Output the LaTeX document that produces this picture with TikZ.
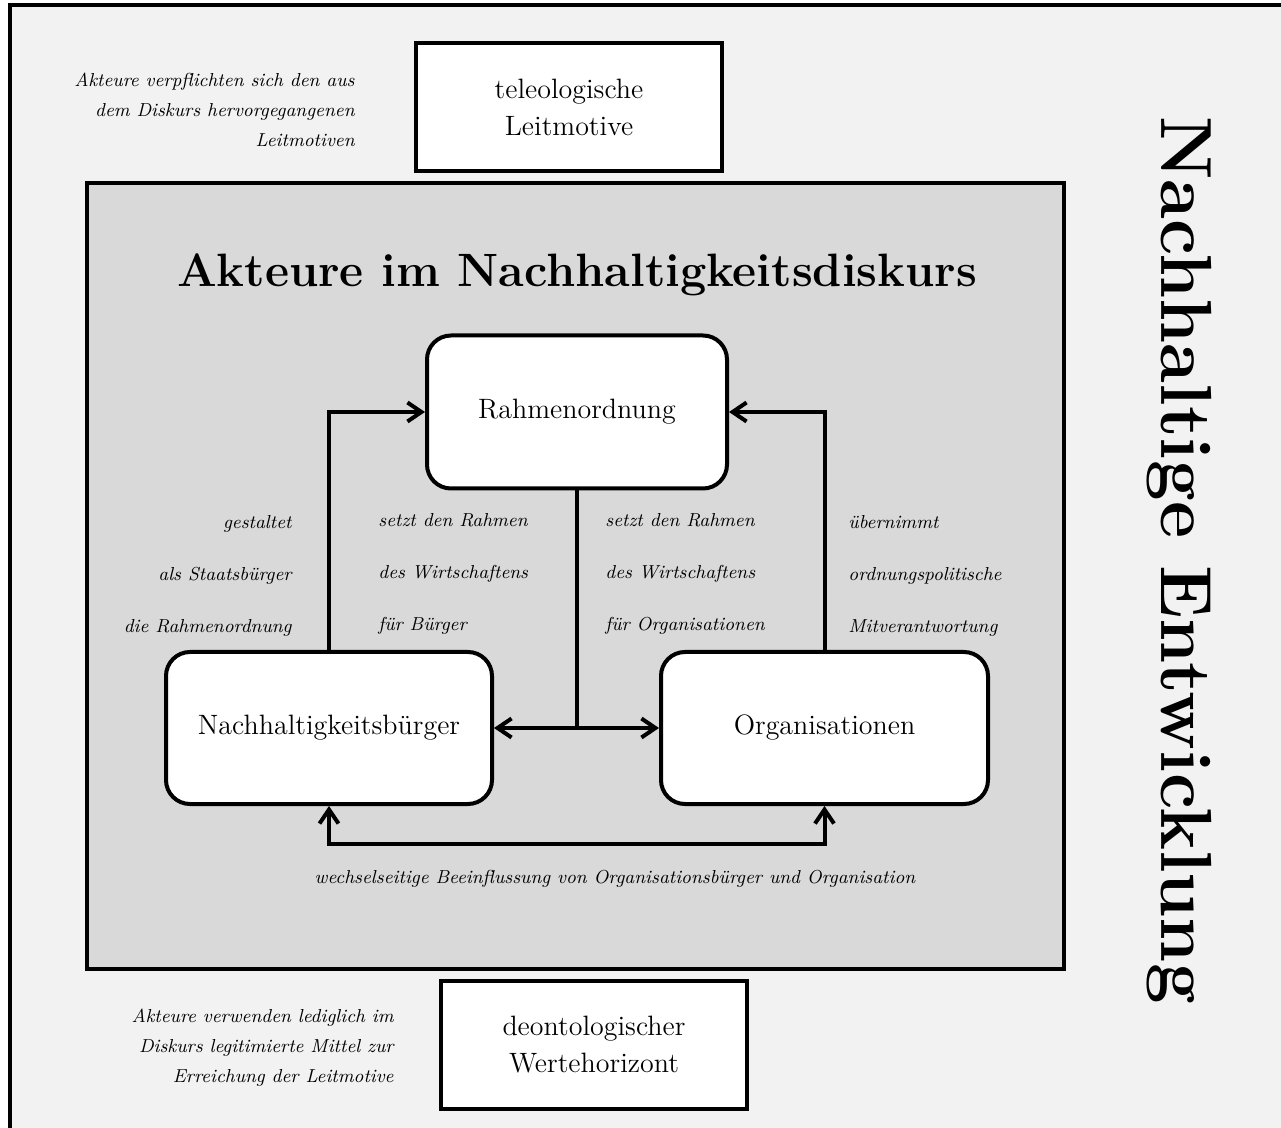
\documentclass[tikz,border=0pt]{standalone}
\usetikzlibrary{arrows.meta}
\definecolor{outerbg}{HTML}{F2F2F2}
\definecolor{innerbg}{HTML}{D9D9D9}
\tikzset{
  rbox/.style={draw, line width=2pt, fill=white, rounded corners=12pt, inner sep=0pt, font=\fontsize{14}{18}\selectfont},
  sbox/.style={draw, line width=2pt, fill=white, inner sep=0pt, align=center, font=\fontsize{14}{18.5}\selectfont, minimum width=153pt, minimum height=64pt},
  lbl/.style={inner sep=0pt, font=\fontsize{9.4}{26}\selectfont\itshape},
  note/.style={inner sep=0pt, align=right, font=\fontsize{9.4}{15}\selectfont\itshape},
  conn/.style={line width=2pt, -{Straight Barb[length=7pt,width=9.5pt,line width=2pt]}},
  conn2/.style={line width=2pt, {Straight Barb[length=7pt,width=9.5pt,line width=2pt]}-{Straight Barb[length=7pt,width=9.5pt,line width=2pt]}},
}
\begin{document}
\begin{tikzpicture}[x=0.5pt,y=-0.5pt]
\useasboundingbox (0,0) rectangle (1281,1128);
\clip (0,0) rectangle (1281,1128);
\fill[white] (0,0) rectangle (1281,1128);
\draw[line width=1.8pt, fill=outerbg] (10,5) rectangle (1300,1150);
\draw[line width=2pt, fill=innerbg] (87,183) rectangle (1064,969);

% top and bottom boxes
\node[sbox] (tel) at (569,107) {teleologische\\Leitmotive};
\node[sbox] (deo) at (594,1045) {deontologischer\\Wertehorizont};

\node[note, anchor=east] (ntop) at (355,110) {Akteure verpflichten sich den aus\\dem Diskurs hervorgegangenen\\Leitmotiven};
\node[note, anchor=east] (nbot) at (394,1048) {Akteure verwenden lediglich im\\Diskurs legitimierte Mittel zur\\Erreichung der Leitmotive};

% title
\node[inner sep=0pt, font=\fontsize{23.4}{26}\selectfont\bfseries] (title) at (577,275) {Akteure im Nachhaltigkeitsdiskurs};

% vertical title
\node[inner sep=0pt, rotate=-90, font=\fontsize{36.2}{40}\selectfont\bfseries] (ne) at (1179,560) {Nachhaltige Entwicklung};

% main boxes
\node[rbox, minimum width=150pt, minimum height=76.5pt] (rn) at (577,412) {Rahmenordnung};
\node[rbox, minimum width=163pt, minimum height=76pt] (nb) at (329,728) {Nachhaltigkeitsbürger};
\node[rbox, minimum width=163.5pt, minimum height=76pt] (org) at (824.5,728) {Organisationen};

% connectors
\draw[conn] (nb.north) |- (rn.west);
\draw[conn] (org.north) |- (rn.east);
\draw[line width=2pt] (rn.south) -- (rn.south |- nb.east);
\draw[conn2] (nb.east) -- (org.west);
\draw[conn2] (nb.south) -- ++(0,38) -| (org.south);

% labels
\node[lbl, align=right, anchor=east] (l1) at (292,576) {gestaltet\\als Staatsbürger\\die Rahmenordnung};
\node[lbl, align=left, anchor=west] (l2) at (378,574) {setzt den Rahmen\\des Wirtschaftens\\für Bürger};
\node[lbl, align=left, anchor=west] (l3) at (605,574) {setzt den Rahmen\\des Wirtschaftens\\für Organisationen};
\node[lbl, align=left, anchor=west] (l4) at (848,576) {übernimmt\\ordnungspolitische\\Mitverantwortung};
\node[lbl] (l5) at (615,879) {wechselseitige Beeinflussung von Organisationsbürger und Organisation};
\end{tikzpicture}
\end{document}
